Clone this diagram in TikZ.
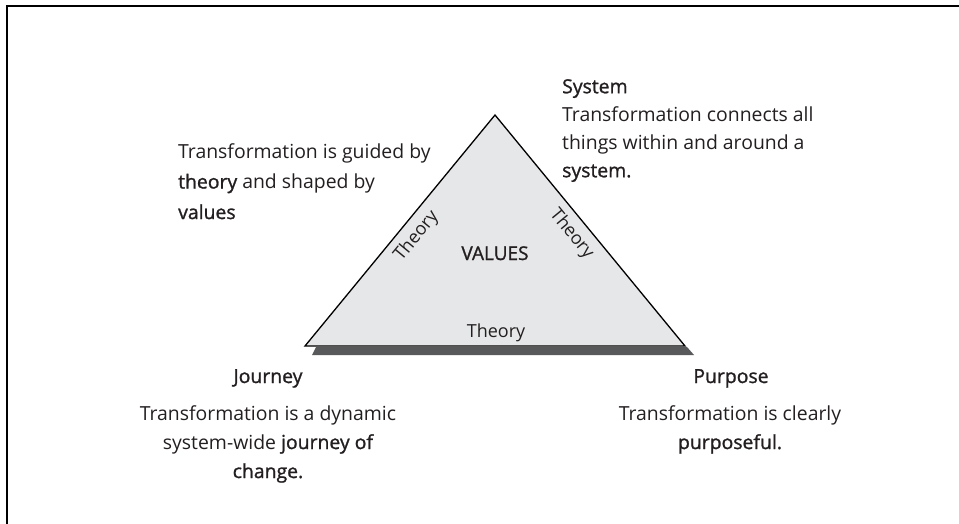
\documentclass[tikz,border=0pt]{standalone}
\usepackage{fontspec}
\setmainfont{Open Sans}
\newfontfamily\semib[FakeBold=1.2]{Open Sans}
\definecolor{txt}{HTML}{231F20}
\definecolor{trifill}{HTML}{E6E7E8}
\definecolor{shadowc}{HTML}{58595B}
\begin{document}
\begin{tikzpicture}[x=1pt,y=-1pt,
  every node/.style={inner sep=0pt, text=txt},
  body/.style={font=\fontsize{19.4}{29}\selectfont},
  theo/.style={font=\fontsize{18}{22}\selectfont},
  tri/.style={draw=black, line width=1.3pt, fill=trifill, line join=miter}]
\useasboundingbox (0,0) rectangle (959,524);
\draw[line width=2pt] (959,6) -- (6.5,6) -- (6.5,524);
% shadow under base
\fill[shadowc] (316,347) -- (687,347) -- (694,355) -- (312,355) -- cycle;
% triangle
\draw[tri] (305,346) coordinate (bl)
  -- (495,115) coordinate (ap) node[theo, sloped, pos=0.52, below=7pt] (tl) {Theory}
  -- (685,346) coordinate (br) node[theo, sloped, pos=0.47, below=7pt] (tr) {Theory}
  -- cycle;
\node[anchor=base, font=\semib\fontsize{19}{23}\selectfont] (val) at (495,260) {VALUES};
\node[theo, anchor=base] (tb) at (496,337) {Theory};
% left text
\node[anchor=north west, align=left, font=\fontsize{19.4}{30.5}\selectfont] (guide) at (178,143)
  {Transformation is guided by\\{\semib theory} and shaped by\\{\semib values}};
% system
\node[anchor=north west, align=left, font=\fontsize{19.4}{28}\selectfont] (sys) at (562,79)
  {{\semib System}\\Transformation connects all\\things within and around a\\{\semib system.}};
% journey
\node[body, anchor=base] (jh) at (268,383) {\semib Journey};
\node[body, anchor=north, align=center] (jb) at (268,405)
  {Transformation is a dynamic\\system-wide {\semib journey of}\\{\semib change.}};
% purpose
\node[body, anchor=base] (ph) at (731,383) {\semib Purpose};
\node[body, anchor=north, align=center] (pb) at (730,405)
  {Transformation is clearly\\{\semib purposeful.}};
\end{tikzpicture}
\end{document}
